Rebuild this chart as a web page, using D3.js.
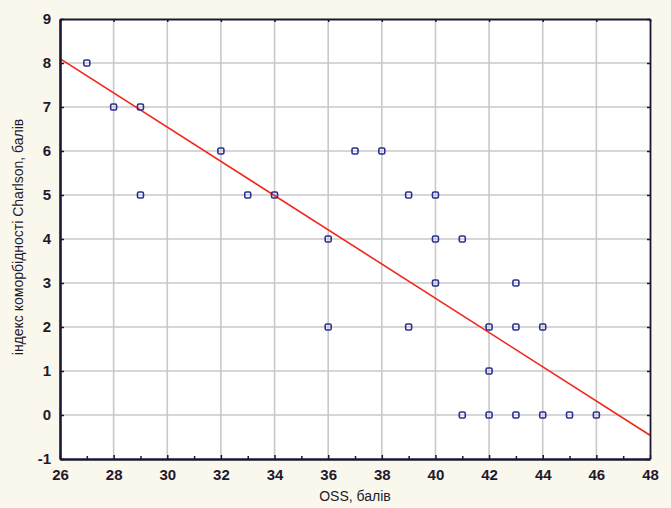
<!DOCTYPE html>
<html>
<head>
<meta charset="utf-8">
<script src="https://cdn.jsdelivr.net/npm/d3@7"></script>
<style>
  body { margin: 0; background: #faf7ec; }
  svg { display: block; }
</style>
</head>
<body>
<div id="chart"></div>
<script>
// дані
const ossScores = [27, 28, 29, 29, 32, 33, 34, 36, 36, 37, 38, 39, 39, 40, 40, 40, 41, 41, 42, 42, 42, 43, 43, 43, 44, 44, 45, 46];
const charlson = [8, 7, 7, 5, 6, 5, 5, 4, 2, 6, 6, 5, 2, 5, 4, 3, 4, 0, 2, 1, 0, 3, 2, 0, 2, 0, 0, 0];
const xTicks = [26, 28, 30, 32, 34, 36, 38, 40, 42, 44, 46, 48];
const yTicks = [-1, 0, 1, 2, 3, 4, 5, 6, 7, 8, 9];
const fitLine = [
  { x: 26, y: 8.1 },
  { x: 48, y: -0.46 },
];

const W = 671, H = 508;
const margin = { top: 19, right: 21, bottom: 49, left: 60 };
const width = W - margin.left - margin.right,
  height = H - margin.top - margin.bottom;

const svg = d3
  .select("#chart")
  .append("svg")
  .attr("width", W)
  .attr("height", H);

svg.append("rect").attr("width", W).attr("height", H).attr("fill", "#faf7ec");

const g = svg
  .append("g")
  .attr("transform", `translate(${margin.left},${margin.top})`);

const x = d3.scaleLinear().domain([26, 48]).range([0, width]);
const y = d3.scaleLinear().domain([-1, 9]).range([height, 0]);

g.append("rect")
  .attr("width", width)
  .attr("height", height)
  .attr("fill", "#ffffff");

// сітка
g.append("g")
  .selectAll("line")
  .data(xTicks.slice(1, -1))
  .join("line")
  .attr("x1", (d) => x(d))
  .attr("x2", (d) => x(d))
  .attr("y1", 0)
  .attr("y2", height)
  .attr("stroke", "#c9c9c9")
  .attr("stroke-width", 1.6);

g.append("g")
  .selectAll("line")
  .data(yTicks.slice(1, -1))
  .join("line")
  .attr("x1", 0)
  .attr("x2", width)
  .attr("y1", (d) => y(d))
  .attr("y2", (d) => y(d))
  .attr("stroke", "#c9c9c9")
  .attr("stroke-width", 1.6);

// лінія регресії
g.append("path")
  .datum(fitLine)
  .attr("fill", "none")
  .attr("stroke", "#f2261b")
  .attr("stroke-width", 1.6)
  .attr("d", d3.line().x((d) => x(d.x)).y((d) => y(d.y)));

// точки
const pts = ossScores.map((v, i) => ({ x: v, y: charlson[i] }));
g.append("g")
  .selectAll("rect")
  .data(pts)
  .join("rect")
  .attr("x", (d) => x(d.x) - 3)
  .attr("y", (d) => y(d.y) - 3)
  .attr("width", 6)
  .attr("height", 6)
  .attr("rx", 1.5)
  .attr("fill", "none")
  .attr("stroke", "#2b2f93")
  .attr("stroke-width", 1.6);

// осі
const axisColor = "#1c1633";
const tickFont = "'Liberation Sans Narrow', 'Liberation Sans', Arial, sans-serif";
const plain = (d) => String(d); // звичайний дефіс замість мінуса

const xAxis = g
  .append("g")
  .attr("transform", `translate(0,${height})`)
  .call(d3.axisBottom(x).tickValues(xTicks).tickFormat(plain).tickSizeInner(-4).tickSizeOuter(0).tickPadding(10));
const xMinor = g
  .append("g")
  .attr("transform", `translate(0,${height})`)
  .call(
    d3.axisBottom(x)
      .tickValues(d3.range(27, 48, 2))
      .tickSize(-3)
      .tickFormat("")
  );
xMinor.select(".domain").remove();

const yAxis = g
  .append("g")
  .call(d3.axisLeft(y).tickValues(yTicks).tickFormat(plain).tickSizeInner(-4).tickSizeOuter(0).tickPadding(10));

const yRight = g
  .append("g")
  .attr("transform", `translate(${width},0)`)
  .call(d3.axisRight(y).tickValues(yTicks).tickSizeInner(-3).tickSizeOuter(0).tickFormat(""));

const xTop = g
  .append("g")
  .call(d3.axisTop(x).tickValues(xTicks).tickSizeInner(-3).tickSizeOuter(0).tickFormat(""));

[xAxis, yAxis].forEach((a) => {
  a.select(".domain").attr("stroke", axisColor).attr("stroke-width", 2.6);
});
[yRight, xTop].forEach((a) => {
  a.select(".domain").attr("stroke", axisColor).attr("stroke-width", 1.8);
});
[xAxis, yAxis, yRight, xTop, xMinor].forEach((a) => {
  a.selectAll(".tick line").attr("stroke", axisColor).attr("stroke-width", 1.5);
});

[xAxis, yAxis].forEach((a) => {
  a.selectAll(".tick text")
    .style("font-family", tickFont)
    .style("font-size", "15px")
    .style("font-weight", "bold")
    .attr("fill", "#1e1a2c");
});
yAxis.selectAll(".tick text").attr("dx", 1);

// підписи осей
svg
  .append("text")
  .attr("x", margin.left + width / 2)
  .attr("y", 501)
  .attr("text-anchor", "middle")
  .style("font-family", tickFont)
  .style("font-size", "14px")
  .attr("fill", "#1e1a2c")
  .text("OSS, балів");

svg
  .append("text")
  .attr("transform", `translate(23,237) rotate(-90)`)
  .attr("text-anchor", "middle")
  .style("font-family", tickFont)
  .style("font-size", "14px")
  .attr("fill", "#1e1a2c")
  .text("індекс коморбідності Charlson, балів");
</script>
</body>
</html>
